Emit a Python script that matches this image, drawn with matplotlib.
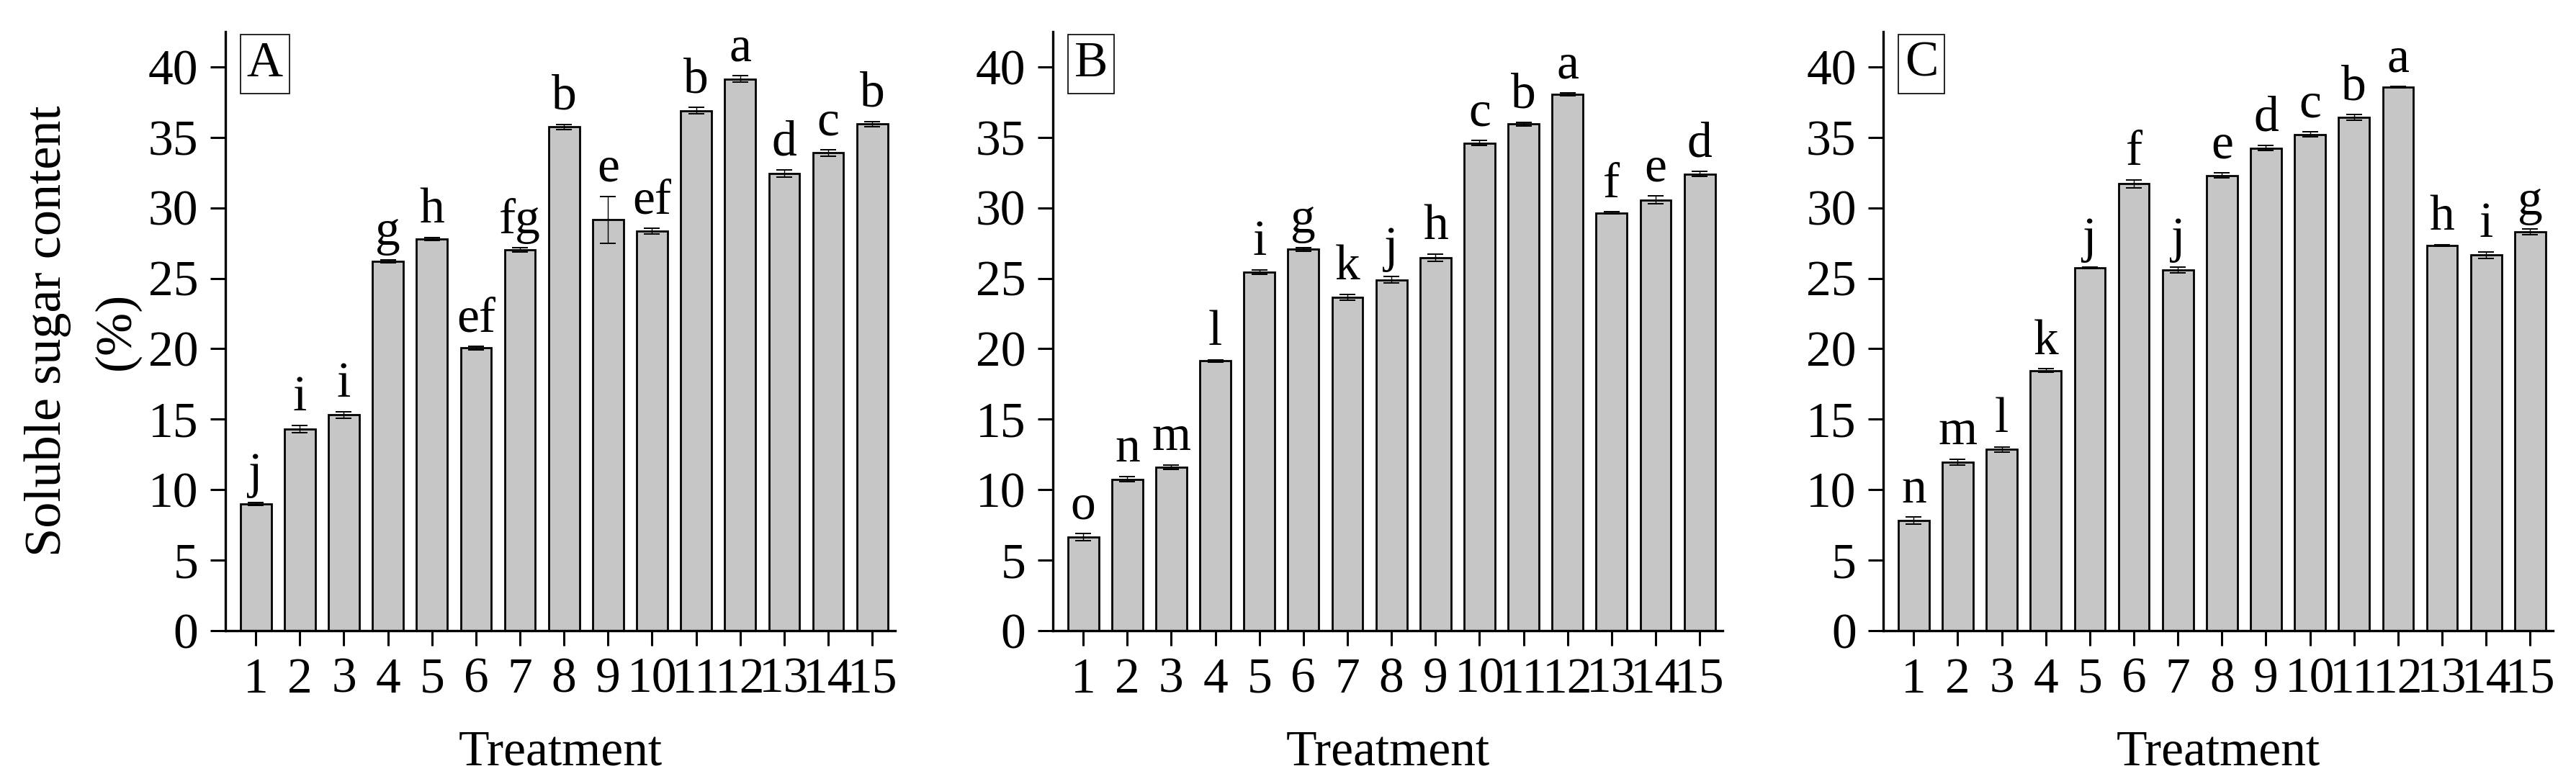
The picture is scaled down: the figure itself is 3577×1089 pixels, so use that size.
import matplotlib
matplotlib.use('Agg')
import matplotlib.pyplot as plt

plt.rcParams['font.family'] = ['Liberation Serif', 'DejaVu Serif']
plt.rcParams['font.size'] = 50

# treatments 1..15
treatments = list(range(1, 16))

# panel A
sugar_a = [9.0, 14.3, 15.3, 26.2, 27.8, 20.05, 27.0, 35.75, 29.15, 28.35, 36.9, 39.15, 32.45, 33.9, 35.95]
err_a = [0.1, 0.25, 0.25, 0.1, 0.1, 0.12, 0.15, 0.18, 1.67, 0.2, 0.22, 0.22, 0.25, 0.22, 0.18]
letters_a = ['j', 'i', 'i', 'g', 'h', 'ef', 'fg', 'b', 'e', 'ef', 'b', 'a', 'd', 'c', 'b']

# panel B
sugar_b = [6.65, 10.75, 11.6, 19.15, 25.45, 27.05, 23.65, 24.9, 26.45, 34.6, 35.95, 38.05, 29.65, 30.55, 32.4]
err_b = [0.25, 0.18, 0.15, 0.08, 0.15, 0.15, 0.22, 0.25, 0.25, 0.18, 0.12, 0.1, 0.06, 0.28, 0.18]
letters_b = ['o', 'n', 'm', 'l', 'i', 'g', 'k', 'j', 'h', 'c', 'b', 'a', 'f', 'e', 'd']

# panel C
sugar_c = [7.8, 11.95, 12.85, 18.45, 25.75, 31.7, 25.6, 32.3, 34.25, 35.2, 36.4, 38.55, 27.35, 26.65, 28.3]
err_c = [0.25, 0.22, 0.18, 0.12, 0.05, 0.28, 0.2, 0.18, 0.18, 0.18, 0.2, 0.05, 0.05, 0.22, 0.18]
letters_c = ['n', 'm', 'l', 'k', 'j', 'f', 'j', 'e', 'd', 'c', 'b', 'a', 'h', 'i', 'g']

panels = [('A', sugar_a, err_a, letters_a),
          ('B', sugar_b, err_b, letters_b),
          ('C', sugar_c, err_c, letters_c)]
lefts = [0.0875, 0.4087, 0.7311]

fig = plt.figure(figsize=(35.77, 10.89), dpi=100)

for (tag, vals, errs, lets), left in zip(panels, lefts):
    ax = fig.add_axes([left, 0.1956, 0.26, 0.764])
    ax.bar(treatments, vals, width=0.7, color='#c6c6c6', edgecolor='black', linewidth=2.0,
           yerr=errs, error_kw=dict(ecolor='black', elinewidth=1.0, capsize=8, capthick=1.4))
    for x, v, e, l in zip(treatments, vals, errs, lets):
        ax.annotate(l, (x, v + e), xytext=(0, 15), textcoords='offset points',
                    ha='center', va='baseline')
    ax.set_xlim(0.31, 15.52)
    ax.set_ylim(0, 42.5)
    ax.set_xticks(treatments)
    ax.set_yticks(range(0, 41, 5))
    for s in ['top', 'right']:
        ax.spines[s].set_visible(False)
    for s in ['left', 'bottom']:
        ax.spines[s].set_linewidth(2.4)
    ax.tick_params(direction='out', length=15, width=2.2, pad=12)
    ax.set_xlabel('Treatment', labelpad=27)
    ax.text(0.032, 0.984, tag, transform=ax.transAxes, ha='left', va='top',
            bbox=dict(boxstyle='square,pad=0.13', fc='white', ec='black', lw=1.2))
    if tag == 'A':
        ax.set_ylabel('Soluble sugar content\n(%)', linespacing=1.6, fontsize=52, labelpad=8)

fig.savefig('out.png', dpi=100)
